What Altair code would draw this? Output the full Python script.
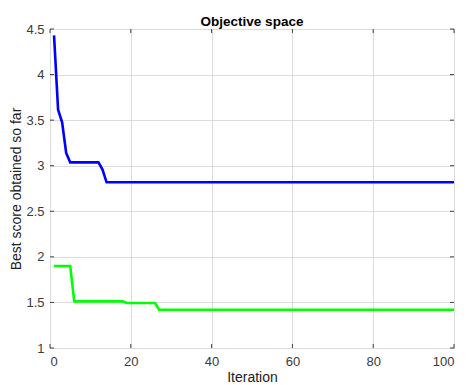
import altair as alt
import pandas as pd

# Data
blue_iter = [1, 2, 3, 4, 5, 12, 13, 14, 100]
blue_score = [4.43, 3.615, 3.476, 3.14, 3.037, 3.037, 2.957, 2.818, 2.818]
green_iter = [1, 5, 6, 18, 19, 26, 27, 100]
green_score = [1.9, 1.9, 1.512, 1.512, 1.494, 1.494, 1.42, 1.42]

x_ticks = [0, 20, 40, 60, 80, 100]
y_ticks = [1, 1.5, 2, 2.5, 3, 3.5, 4, 4.5]

W, H = 404, 319
FONT = "Liberation Sans"
AXC = "#404040"

df = pd.concat([
    pd.DataFrame({"it": blue_iter, "score": blue_score, "s": "blue", "o": range(len(blue_iter))}),
    pd.DataFrame({"it": green_iter, "score": green_score, "s": "green", "o": range(len(green_iter))}),
])

xs = alt.Scale(domain=[0, 100], nice=False)
ys = alt.Scale(domain=[1, 4.5], nice=False, zero=False)

lines = alt.Chart(df).mark_line(strokeWidth=2.6, clip=True).encode(
    x=alt.X("it:Q", scale=xs, title="Iteration",
            axis=alt.Axis(values=x_ticks, grid=True, gridColor="#dcdcdc", domain=False,
                          ticks=False, labelPadding=7, titlePadding=2, format="d",
                          labelFont=FONT, titleFont=FONT, labelFontSize=13, titleFontSize=14,
                          labelColor="#3a3a3a", titleColor="#222222",
                          titleFontWeight="normal")),
    y=alt.Y("score:Q", scale=ys, title="Best score obtained so far",
            axis=alt.Axis(values=y_ticks, grid=True, gridColor="#dcdcdc", domain=False,
                          ticks=False, labelPadding=6, titlePadding=2, format="~g",
                          labelFont=FONT, titleFont=FONT, labelFontSize=13, titleFontSize=14,
                          labelColor="#3a3a3a", titleColor="#222222",
                          titleFontWeight="normal")),
    color=alt.Color("s:N", scale=alt.Scale(domain=["blue", "green"], range=["#0000ff", "#00ff00"]), legend=None),
    detail="s:N",
    order="o:Q",
)

xt = pd.DataFrame({"v": x_ticks})
yt = pd.DataFrame({"v": y_ticks})

xb = alt.Chart(xt).mark_rule(color=AXC, strokeWidth=1).encode(
    x=alt.X("v:Q", scale=xs), y=alt.value(H), y2=alt.value(H - 4))
xtp = alt.Chart(xt).mark_rule(color=AXC, strokeWidth=1).encode(
    x=alt.X("v:Q", scale=xs), y=alt.value(0), y2=alt.value(4))
yl = alt.Chart(yt).mark_rule(color=AXC, strokeWidth=1).encode(
    y=alt.Y("v:Q", scale=ys), x=alt.value(0), x2=alt.value(4))
yr = alt.Chart(yt).mark_rule(color=AXC, strokeWidth=1).encode(
    y=alt.Y("v:Q", scale=ys), x=alt.value(W), x2=alt.value(W - 4))

chart = alt.layer(lines, xb, xtp, yl, yr).properties(
    width=W, height=H,
    background="white",
    title=alt.TitleParams("Objective space", fontSize=13.5, fontWeight="bold", font=FONT,
                          color="#000000", anchor="middle", offset=-5, frame="group"),
    autosize=alt.AutoSizeParams(type="none"),
    padding={"left": 42, "top": 21, "right": 5, "bottom": 38},
).configure_view(stroke=AXC, strokeWidth=1)

chart.save("out.html", embed_options={"renderer": "svg", "actions": False})
